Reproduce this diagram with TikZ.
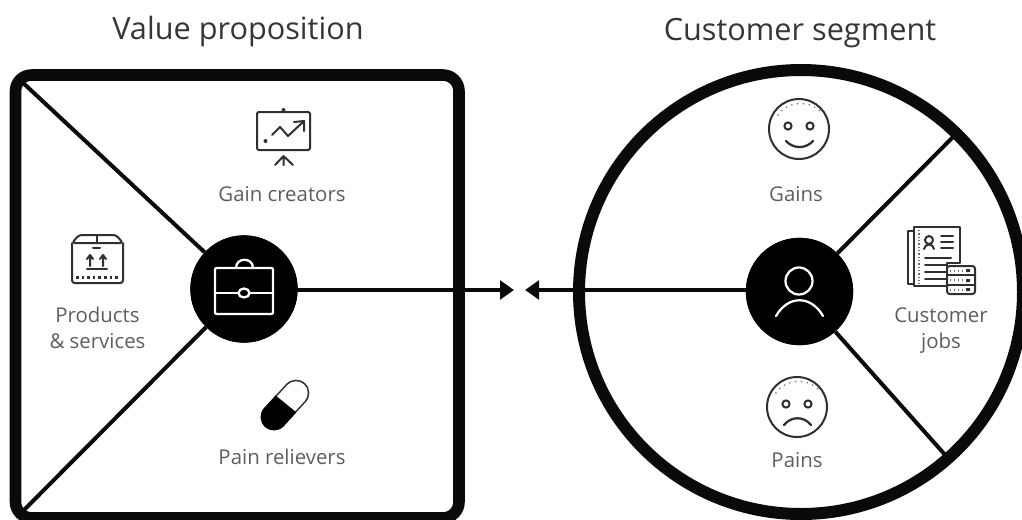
\documentclass[tikz,border=0pt]{standalone}
\usepackage{fontspec}
\setmainfont{Open Sans}
\usetikzlibrary{arrows.meta}
\definecolor{ink}{HTML}{0A0A0A}
\definecolor{icon}{HTML}{303030}
\definecolor{lab}{HTML}{5E5E5E}
\definecolor{ttl}{HTML}{363636}
\tikzset{
  title/.style={font=\fontsize{23pt}{26pt}\selectfont,text=ttl,inner sep=0pt},
  lbl/.style={font=\fontsize{15.3pt}{19.5pt}\selectfont,text=lab,inner sep=0pt,align=center},
  hub/.style={circle,fill=black,draw=none,inner sep=0pt,minimum size=80.5pt},
  spoke/.style={draw=ink,line width=3pt},
  frame/.style={draw=ink,line width=8.7pt},
  pointer/.style={draw=ink,line width=2.6pt,-{Triangle[length=10.5pt,width=14pt]}},
  ic/.style={draw=icon,line width=1.5pt,line cap=round,line join=round},
  wh/.style={draw=white,line width=1.7pt,line cap=round,line join=round},
}
\begin{document}
\begin{tikzpicture}[x=0.75pt,y=-0.75pt]
\useasboundingbox (0,0) rectangle (1022,519);
\begin{scope}
\clip (0,0) rectangle (1022,519);
% coordinates
\coordinate (tl) at (20,80);
\coordinate (bl) at (20,514);
\coordinate (ur) at (955,135);
\coordinate (lr) at (947,457);
\coordinate (arrowL) at (514,290);
\coordinate (arrowR) at (525,290);
% frames
\node[frame,draw,rounded corners=12pt,minimum width=332.6pt,minimum height=332.2pt,inner sep=0pt] (valuebox) at (237.25,296.5) {};
\node[frame,draw=ink,line width=9pt,circle,minimum size=333pt,inner sep=0pt] (segment) at (801,292) {};
% hubs
\node[hub] (hubL) at (244,289) {};
\node[hub] (hubR) at (799.5,291.5) {};
% spokes
\draw[spoke] (tl) -- (hubL);
\draw[spoke] (bl) -- (hubL);
\draw[spoke] (hubR) -- (ur);
\draw[spoke] (hubR) -- (lr);
\draw[pointer] (hubL.center |- arrowL) -- (arrowL);
\draw[pointer] (hubR.center |- arrowR) -- (arrowR);
\node[hub] at (hubL) {};
\node[hub] at (hubR) {};
% titles
\node[title] (t1) at (238,32) {Value proposition};
\node[title] (t2) at (800,33) {Customer segment};
% labels
\node[lbl] (l1) at (282,194) {Gain creators};
\node[lbl] (l2) at (97.5,328) {Products\\\& services};
\node[lbl] (l3) at (282,457) {Pain relievers};
\node[lbl] (l4) at (796,194) {Gains};
\node[lbl] (l5) at (941,331) {Customer\\jobs};
\node[lbl] (l6) at (797,460) {Pains};
% briefcase icon
\draw[wh,rounded corners=1pt] (215,268) rectangle (273,314);
\draw[wh] (215,293) -- (238,293) (250,293) -- (273,293);
\draw[wh] (244,293) ellipse (5.5 and 4.5);
\draw[wh] (236,268) .. controls (236,257) and (253,257) .. (253,268);
% person icon
\draw[wh] (799,281) circle (13.5);
\draw[wh] (776,316) .. controls (788,295) and (811,295) .. (823,316);
% chart icon
\draw[ic,rounded corners=1.5pt] (257,112) rectangle (310,150);
\fill[icon] (283.5,110) circle (2);
\draw[ic] (283.5,156) -- (283.5,165) (275,165) -- (283.5,156) -- (293,165);
\fill[icon] (265.5,141) circle (2);
\draw[ic] (272,135) -- (280,127) -- (288,136) -- (303,122);
\draw[ic] (294,122) -- (304,121) -- (304,131);
% box icon
\draw[ic,rounded corners=2pt] (72,243) -- (72,283) -- (123,283) -- (123,243);
\draw[ic,rounded corners=2pt] (72,243) -- (79,235) -- (116,235) -- (123,243) -- cycle;
\draw[ic] (97,235) -- (97,243);
\draw[ic] (93,248) -- (100,248);
\draw[ic] (90,266) -- (90,256) (87,259) -- (90,255) -- (93,259);
\draw[ic] (103,266) -- (103,256) (100,259) -- (103,255) -- (106,259);
\draw[ic] (87,269) -- (107,269);
\draw[icon,line width=2pt,dash pattern=on 2pt off 2.2pt] (76,277.5) -- (119,277.5);
% pill icon
\begin{scope}
\coordinate (pa) at (274,417);
\coordinate (pb) at (296,393);
\draw[icon,line width=20pt,line cap=round] (pa) -- (pb);
\draw[white,line width=17.6pt,line cap=round] (pa) -- (pb);
\begin{scope}
\clip (275,395) -- (296,412) -- (280,440) -- (250,430) -- (250,400) -- cycle;
\draw[black,line width=20pt,line cap=round] (pa) -- (pb);
\end{scope}
\end{scope}
% customer jobs icon
\draw[ic] (914,231) -- (908,231) -- (908,284) -- (914,284);
\draw[ic,fill=white] (914,227) -- (960,227) -- (960,263) -- (947,263) -- (947,286) -- (914,286) -- cycle;
\draw[icon!70,line width=1.2pt,dash pattern=on 1pt off 1.5pt] (919,230) -- (919,284);
\draw[ic] (929,240) circle (4);
\draw[ic] (924,249) .. controls (925,243) and (933,243) .. (934,249);
\draw[ic] (941,236) -- (953,236) (941,242) -- (953,242) (941,248) -- (953,248);
\draw[ic] (925,258) -- (951,258) (925,265) -- (946,265) (925,272) -- (946,272) (925,279) -- (946,279);
\draw[ic,rounded corners=2pt,fill=white] (947,266) rectangle (975,294);
\draw[ic] (947,275) -- (975,275) (947,285) -- (975,285);
\draw[icon!70,line width=1.2pt,dash pattern=on 1pt off 2pt] (950,271) -- (964,271) (950,280) -- (964,280) (950,290) -- (964,290);
\fill[icon] (966,269) rectangle (970,272) (966,279) rectangle (970,282) (966,288) rectangle (970,291);
% gains face
\draw[ic] (799,129) circle (30);
\draw[icon!70,line width=1.3pt,line cap=round,dash pattern=on 0pt off 4.4pt] (778,115) .. controls (788,100) and (811,100) .. (822,113);
\draw[ic] (788,126) circle (3.6) (810,126) circle (3.6);
\draw[ic,line width=1.7pt] (786,141) .. controls (793,149) and (806,149) .. (813,141);
% pains face
\draw[ic] (797,407) circle (30);
\draw[icon!70,line width=1.3pt,line cap=round,dash pattern=on 0pt off 4.4pt] (776,393) .. controls (786,378) and (809,378) .. (820,391);
\draw[ic] (786,404) circle (3.6) (808,404) circle (3.6);
\draw[ic,line width=1.7pt] (784,425) .. controls (791,416) and (804,416) .. (811,425);
\end{scope}
\end{tikzpicture}
\end{document}
